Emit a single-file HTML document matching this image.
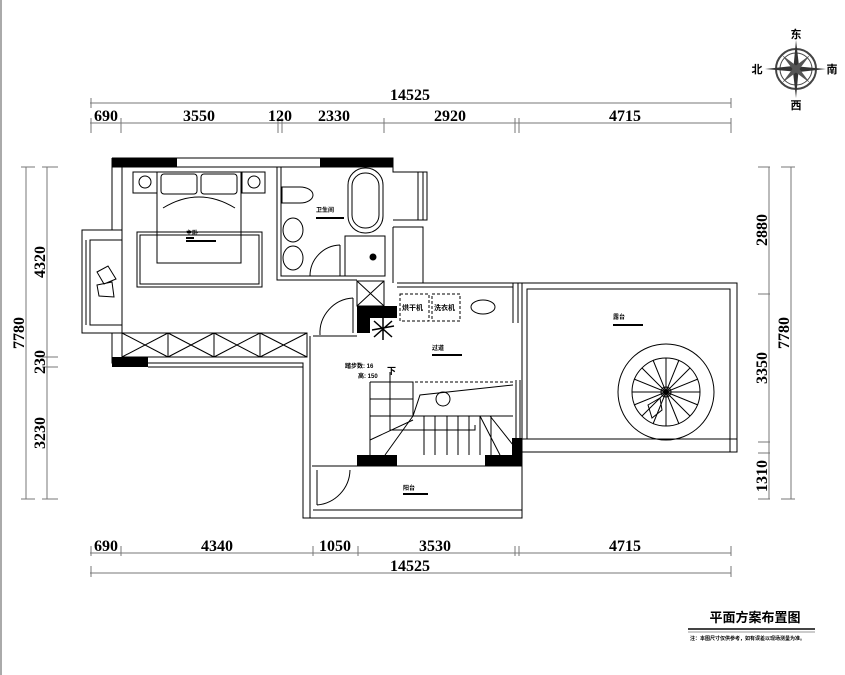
<!DOCTYPE html>
<html><head><meta charset="utf-8"><style>
html,body{margin:0;padding:0;background:#fff;}
svg{display:block}
.d{font-family:"Liberation Serif","Noto Serif CJK SC",serif;font-weight:bold;font-size:16px;fill:#000}
.t{font-family:"Liberation Sans","Noto Sans CJK SC",sans-serif;font-weight:bold;fill:#000}
</style></head><body>
<svg width="845" height="675" viewBox="0 0 845 675" xmlns="http://www.w3.org/2000/svg">
<rect width="845" height="675" fill="#fff"/>
<line x1="1" y1="0" x2="1" y2="675" stroke="#555" stroke-width="1"/>
<g stroke="#777" stroke-width="1" fill="none">
<line x1="90" y1="103" x2="731" y2="103"/>
<line x1="90" y1="123" x2="731" y2="123"/>
<path d="M91 98V108M731 98V108M91 118V133M121 118V133M278 118V133M282 118V133M384 118V133M515 118V133M519 118V133M731 118V133"/>
<line x1="90" y1="553" x2="731" y2="553"/>
<line x1="90" y1="573" x2="731" y2="573"/>
<path d="M91 546V556M121 546V556M313 546V556M358 546V556M515 546V556M519 546V556M731 546V556M91 566V577M731 566V577"/>
<line x1="26" y1="167" x2="26" y2="499"/>
<line x1="47" y1="167" x2="47" y2="499"/>
<path d="M21 167H35M21 499H35M42 167H58M42 357H58M42 367H58M42 499H58"/>
<line x1="769" y1="167" x2="769" y2="499"/>
<line x1="791" y1="167" x2="791" y2="499"/>
<path d="M758 167H770M758 294H770M758 442H770M758 453H770M758 499H770M781 167H795M781 499H795"/>
</g>
<g class="d">
<text x="410" y="100" text-anchor="middle">14525</text>
<text x="106" y="121" text-anchor="middle">690</text>
<text x="199" y="121" text-anchor="middle">3550</text>
<text x="280" y="121" text-anchor="middle">120</text>
<text x="334" y="121" text-anchor="middle">2330</text>
<text x="450" y="121" text-anchor="middle">2920</text>
<text x="625" y="121" text-anchor="middle">4715</text>
<text x="106" y="551" text-anchor="middle">690</text>
<text x="217" y="551" text-anchor="middle">4340</text>
<text x="335" y="551" text-anchor="middle">1050</text>
<text x="435" y="551" text-anchor="middle">3530</text>
<text x="625" y="551" text-anchor="middle">4715</text>
<text x="410" y="571" text-anchor="middle">14525</text>
<text transform="translate(24,333) rotate(-90)" text-anchor="middle">7780</text>
<text transform="translate(45,262) rotate(-90)" text-anchor="middle">4320</text>
<text transform="translate(45,362) rotate(-90)" text-anchor="middle">230</text>
<text transform="translate(45,433) rotate(-90)" text-anchor="middle">3230</text>
<text transform="translate(767,230) rotate(-90)" text-anchor="middle">2880</text>
<text transform="translate(767,368) rotate(-90)" text-anchor="middle">3350</text>
<text transform="translate(767,476) rotate(-90)" text-anchor="middle">1310</text>
<text transform="translate(789,333) rotate(-90)" text-anchor="middle">7780</text>
</g>

<g stroke="#000" stroke-width="1" fill="none">
<path d="M112 158H393V167M112 167H393"/>
<path d="M112 158V230H82V333H112V363H303V518H522V283"/>
<path d="M122 167V240H90V325H122V357"/>
<rect x="82" y="230" width="40" height="103"/>
<line x1="86" y1="240" x2="86" y2="325"/>
<path d="M148 367H303"/>
<path d="M307 333V357"/>
<rect x="122" y="333" width="185" height="24"/>
<path d="M168 333V357M214 333V357M260 333V357"/>
<path d="M122 333L168 357M168 333L122 357M168 333L214 357M214 333L168 357M214 333L260 357M260 333L214 357M260 333L307 357M307 333L260 357"/>
<rect x="137" y="232" width="125" height="55"/>
<rect x="140" y="235" width="119" height="49"/>
<rect x="157" y="172" width="84" height="91"/>
<rect x="161" y="174" width="36" height="20" rx="3"/>
<rect x="201" y="174" width="36" height="20" rx="3"/>
<path d="M163 208Q199 186 235 208"/>
<rect x="133" y="172" width="24" height="21"/>
<rect x="242" y="172" width="23" height="21"/>
<circle cx="145" cy="182" r="6"/><circle cx="254" cy="182" r="6"/>
<path d="M97 272L108 266L116 279L104 284Z M97 285L112 282L114 297L99 296Z"/>
<path d="M277 167V280H357"/>
<path d="M281 167V276H345"/>
<path d="M393 167V172H427V220H393"/>
<path d="M418 172V220M423 172V220"/>
<path d="M393 227H423V283"/>
<path d="M393 227V283"/>
<rect x="348" y="168" width="35" height="65" rx="17"/>
<rect x="352" y="173" width="27" height="55" rx="13"/>
<path d="M282 187H300A13 8 0 0 1 300 203H282Z"/>
<ellipse cx="293" cy="230" rx="10" ry="12"/>
<ellipse cx="293" cy="258" rx="10" ry="12"/>
<rect x="345" y="236" width="40" height="40"/>
<circle cx="373" cy="257" r="3" fill="#000"/>
<path d="M340 245V276M340 245A31 31 0 0 0 310 276"/>
<rect x="357" y="281" width="27" height="25"/>
<path d="M357 281L384 306M384 281L357 306"/>
<path d="M353 298A35 35 0 0 0 320 335"/>
<path d="M353 298V333"/>
<path d="M397 283H522M397 287H513M513 283V323M518 283V323"/>
<path d="M313 336H357M310 336V518"/>
<g stroke-dasharray="3 2">
<rect x="400" y="294" width="29" height="27"/>
<rect x="432" y="294" width="28" height="27"/>
<path d="M370 382H513"/>
</g>
<ellipse cx="483" cy="307" rx="12" ry="7"/>
<path d="M370 382V455M370 382H413V416H370M370 399H413M413 416H513"/>
<path d="M424 416V455M435 416V455M447 416V455M458 416V455M469 416V455M480 416V455M491 416V455"/>
<path d="M413 416L385 455M413 416L420 395L513 385M480 416L500 455M490 416L513 445"/>
<path d="M370 440L413 420"/>
<circle cx="443" cy="399" r="7"/>
<path d="M390 372V430H475V425"/>
<path d="M516 380V440M520 380V440"/>
<path d="M312 466H522M313 510H522M317 470V505"/>
<path d="M350 470A36 36 0 0 1 317 505"/>
<rect x="522" y="283" width="215" height="169"/>
<rect x="527" y="289" width="203" height="150"/>
<path d="M522 439H737M730 289V452"/>
<circle cx="666" cy="392" r="48"/>
<circle cx="666" cy="392" r="34"/>
<circle cx="666" cy="392" r="5"/>
<path d="M666 358V426M632 392H700M642 368L690 416M690 368L642 416M653 360L679 424M679 360L653 424M634 379L698 405M698 379L634 405"/>
<path d="M648 405L660 398L662 410L652 418Z"/>
</g>
<g fill="#000">
<rect x="112" y="158" width="65" height="9"/>
<rect x="320" y="158" width="73" height="9"/>
<rect x="112" y="357" width="36" height="10"/>
<rect x="357" y="306" width="40" height="12"/>
<rect x="357" y="306" width="13" height="27"/>
<rect x="357" y="455" width="40" height="11"/>
<rect x="485" y="455" width="37" height="11"/>
<rect x="512" y="438" width="10" height="28"/>
</g>
<g stroke="#000" stroke-width="1.5">
<path d="M372 330L394 326M383 318L383 340M374 321L392 337M392 321L374 337"/>
</g>
<g class="t" font-size="6">
<text x="186" y="235">主卧</text><rect x="186" y="237" width="8" height="2"/><rect x="186" y="240" width="30" height="2"/>
<text x="316" y="212">卫生间</text><rect x="316" y="217" width="28" height="2"/>
<text x="432" y="350">过道</text><rect x="432" y="354" width="30" height="2"/>
<text x="613" y="319">露台</text><rect x="613" y="324" width="30" height="2"/>
<text x="403" y="490">阳台</text><rect x="403" y="493" width="25" height="2"/>
<text x="402" y="310" font-size="7">烘干机</text>
<text x="434" y="310" font-size="7">洗衣机</text>
<text x="345" y="368">踏步数: 16</text>
<text x="358" y="378">高: 150</text>
<text x="387" y="374" font-size="9">下</text>
</g>
<g>
<circle cx="796" cy="69" r="20" fill="none" stroke="#444" stroke-width="2"/>
<circle cx="796" cy="69" r="16" fill="none" stroke="#444" stroke-width="1"/>
<path d="M796 40L799 66L796 98L793 72Z" fill="#333"/>
<path d="M765 69L793 66L826 69L799 72Z" fill="#333"/>
<path d="M782 55L798 67L810 83L794 71Z" fill="#555"/>
<path d="M810 55L798 71L782 83L794 67Z" fill="#555"/>
<text class="t" x="796" y="38" font-size="11" text-anchor="middle">东</text>
<text class="t" x="832" y="73" font-size="11" text-anchor="middle">南</text>
<text class="t" x="757" y="73" font-size="11" text-anchor="middle">北</text>
<text class="t" x="796" y="109" font-size="11" text-anchor="middle">西</text>
</g>
<text class="t" x="755" y="622" font-size="13" text-anchor="middle">平面方案布置图</text>
<rect x="688" y="628" width="127" height="2" fill="#444"/>
<line x1="688" y1="632" x2="815" y2="632" stroke="#999"/>
<text class="t" x="690" y="640" font-size="5">注：本图尺寸仅供参考，如有误差以现场测量为准。</text>
</svg>
</body></html>
